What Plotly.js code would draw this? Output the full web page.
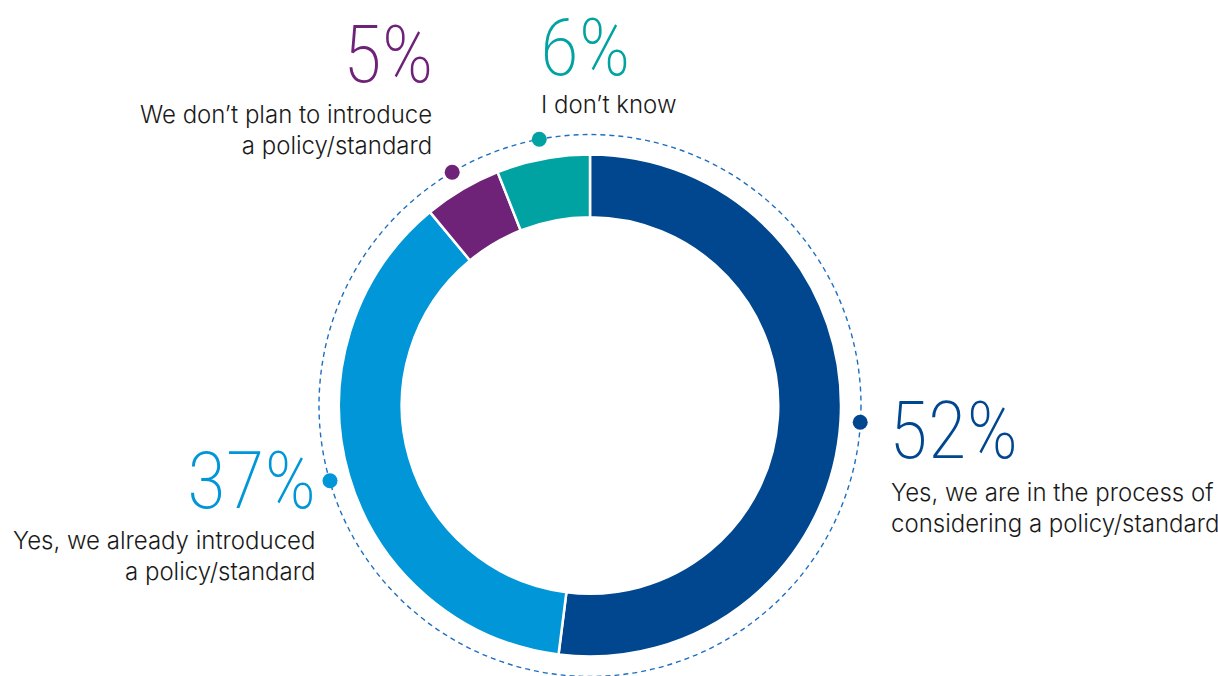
<!DOCTYPE html>
<html>
<head>
<meta charset="utf-8">
<script src="https://cdn.plot.ly/plotly-3.0.1.min.js"></script>
<style>html,body{margin:0;padding:0;background:#fff;}#chart{width:1218px;height:676px;}</style>
</head>
<body>
<div id="chart"></div>
<script>
// ---- data ----
const categories = [
  "Yes, we are in the process of<br>considering a policy/standard",
  "Yes, we already introduced<br>a policy/standard",
  "We don\u2019t plan to introduce<br>a policy/standard",
  "I don\u2019t know"
];
const values = [52, 37, 5, 6];
const colors = ["#00478F", "#0096D8", "#6E2278", "#00A3A1"];

// ---- layout constants (pixels) ----
const W = 1218, H = 676;
const cx = 590, cy = 405.5, rOuter = 251, rDash = 271;
const px = x => x / W;
const py = y => 1 - y / H;

// label placement per category: [pctX, pctY, labelX, labelY, anchor]
const labelPos = [
  [887, 431, 889, 508, "left"],
  [318, 481, 317, 556, "right"],
  [435, 55, 434, 130, "right"],
  [538, 48, 539, 105, "left"]
];

// mid angles of slices for the marker dots
const total = values.reduce((a, b) => a + b, 0);
let cum = 0;
const midTheta = values.map(v => { const m = (cum + v / 2) / total * 360; cum += v; return m; });

const pie = {
  type: "pie",
  values: values,
  labels: categories,
  sort: false,
  direction: "clockwise",
  rotation: 0,
  hole: 0.75,
  textinfo: "none",
  hoverinfo: "none",
  marker: { colors: colors, line: { color: "#ffffff", width: 2.5 } },
  domain: { x: [px(cx - rOuter), px(cx + rOuter)], y: [py(cy + rOuter), py(cy - rOuter)] }
};

const dots = {
  type: "scatterpolar",
  mode: "markers",
  r: values.map(() => 1),
  theta: midTheta,
  marker: { color: colors, size: 15 },
  hoverinfo: "none",
  subplot: "polar"
};

const annotations = [];
values.forEach((v, i) => {
  const [pX, pY, lX, lY, anc] = labelPos[i];
  annotations.push({
    xref: "paper", yref: "paper", x: px(pX), y: py(pY),
    xanchor: anc, yanchor: "middle", showarrow: false,
    text: v + "%",
    font: { family: "'Roboto Condensed', sans-serif", size: 80, weight: 200, color: colors[i] }
  });
  annotations.push({
    xref: "paper", yref: "paper", x: px(lX), y: py(lY),
    xanchor: anc, yanchor: "middle", showarrow: false, align: anc,
    text: categories[i],
    font: { family: "Inter, Roboto, sans-serif", size: 24, weight: 300, color: "#1a1a1a" }
  });
});

const layout = {
  width: W, height: H,
  margin: { l: 0, r: 0, t: 0, b: 0 },
  paper_bgcolor: "#ffffff",
  showlegend: false,
  shapes: [{
    type: "circle", xref: "paper", yref: "paper", layer: "below",
    x0: px(cx - rDash), x1: px(cx + rDash), y0: py(cy + rDash), y1: py(cy - rDash),
    line: { color: "#1E6FBF", width: 1.4, dash: "5px,4px" }
  }],
  polar: {
    domain: { x: [px(cx - rDash), px(cx + rDash)], y: [py(cy + rDash), py(cy - rDash)] },
    bgcolor: "rgba(0,0,0,0)",
    radialaxis: { visible: false, range: [0, 1] },
    angularaxis: { visible: false, rotation: 90, direction: "clockwise" }
  },
  annotations: annotations
};

Plotly.newPlot("chart", [pie, dots], layout, { displayModeBar: false, staticPlot: true });
</script>
</body>
</html>
